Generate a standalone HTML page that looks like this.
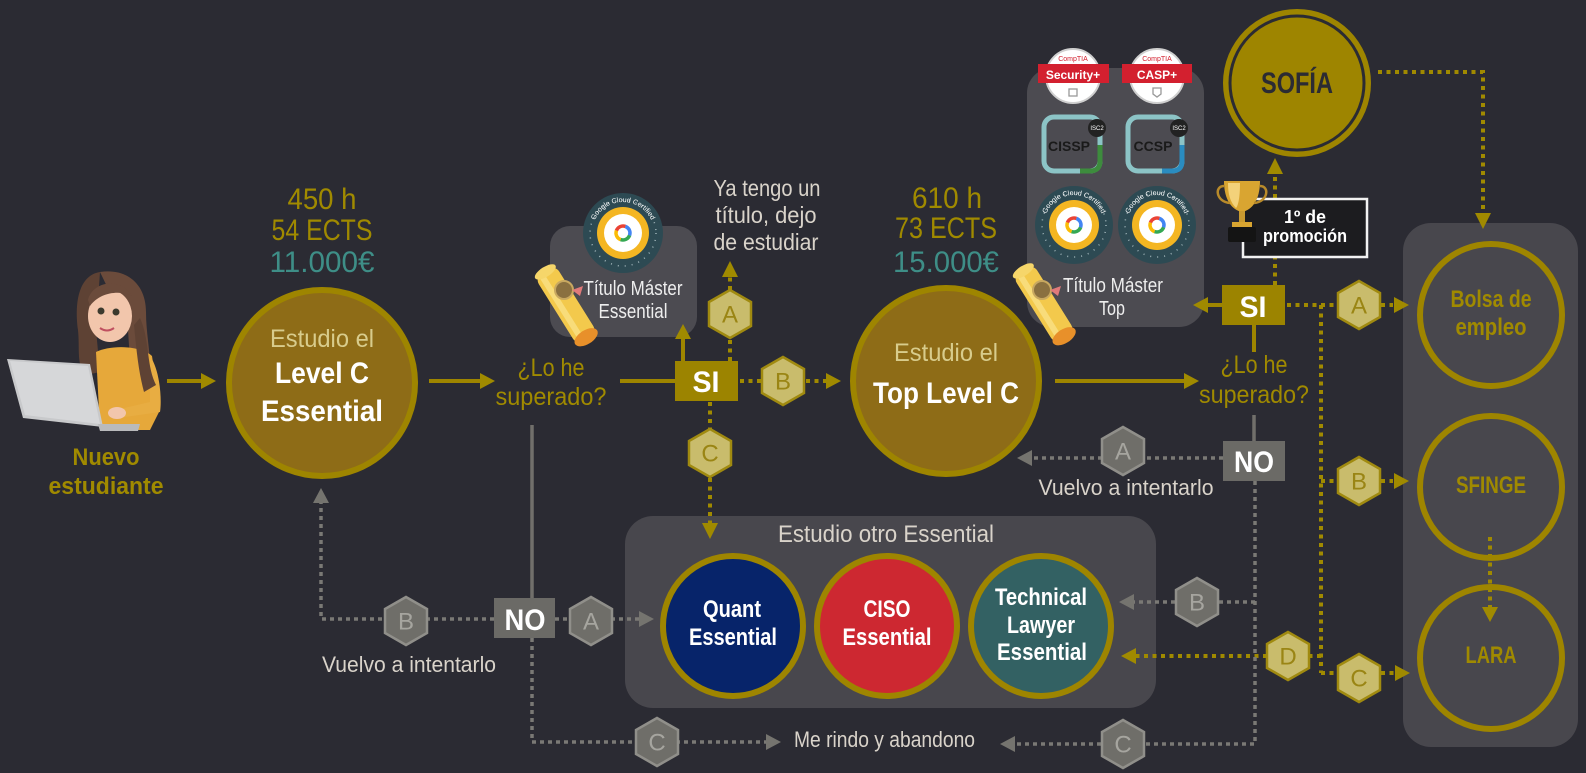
<!DOCTYPE html>
<html><head><meta charset="utf-8">
<style>
html,body{margin:0;padding:0;background:#2b2b33;}
svg{display:block;}
text{font-family:"Liberation Sans Narrow","Liberation Sans",sans-serif;}
.g{fill:#a08a00}
.t{fill:#3e8e87}
.l{fill:#d9d3ca}
.w{fill:#ffffff}
.pale{fill:#d8cc8c}
.ls{stroke:#9e8500;stroke-width:4;fill:none}
.ld{stroke:#a08a00;stroke-width:4;fill:none;stroke-dasharray:4 4.5}
.gs{stroke:#716f6b;stroke-width:3.5;fill:none}
.gd{stroke:#7a7975;stroke-width:3.5;fill:none;stroke-dasharray:4 4}
.ag{fill:#a08a00}
.ax{fill:#75746f}
.hg{fill:#c9bc6c;stroke:#a08a10;stroke-width:2.5}
.hx{fill:#6f6e69;stroke:#908f8a;stroke-width:2.5}
.lg{fill:#9a8514;font-size:24px}
.lx{fill:#a6a59f;font-size:24px}
</style></head>
<body>
<svg width="1586" height="773" viewBox="0 0 1586 773" xmlns="http://www.w3.org/2000/svg">
<rect width="1586" height="773" fill="#2b2b33"/>

<!-- panels -->
<rect x="550" y="226" width="147" height="111" rx="20" fill="#4c4b51"/>
<rect x="1027" y="68" width="177" height="259" rx="25" fill="#4c4b51"/>
<rect x="625" y="516" width="531" height="192" rx="28" fill="#48474d"/>
<rect x="1403" y="223" width="175" height="524" rx="28" fill="#48474d"/>

<!-- ===== girl with laptop ===== -->
<g>
  <path d="M100,272 C80,275 74,300 78,330 C80,350 76,365 86,375 L100,372 L96,330 Z" fill="#5e4234"/>
  <path d="M100,272 C128,268 146,285 146,312 C146,340 154,365 148,392 L132,392 L128,330 Z" fill="#6b4b3b"/>
  <ellipse cx="110" cy="316" rx="22" ry="26" fill="#f2c6ac"/>
  <path d="M88,300 C92,282 120,276 132,296 C120,290 100,292 90,306 Z" fill="#6b4b3b"/>
  <circle cx="101" cy="311" r="3.5" fill="#3c3a2e"/>
  <circle cx="116" cy="312" r="3.5" fill="#3c3a2e"/>
  <path d="M100,328 Q107,333 114,328" stroke="#c05060" stroke-width="2" fill="none"/>
  <path d="M96,352 C110,345 140,345 152,356 L160,410 L150,430 L100,430 Z" fill="#e6a83a"/>
  <path d="M150,356 C160,370 162,400 160,412 L118,418 L116,410 L150,402 Z" fill="#e8ad42"/>
  <ellipse cx="117" cy="413" rx="9" ry="6" fill="#f2c6ac"/>
  <path d="M140,318 C150,340 146,365 156,385 L144,392 C138,370 136,345 134,325 Z" fill="#5e4234"/>
  <polygon points="7,359 90,364 103,427 23,418" fill="#c8c9cb"/>
  <polygon points="10,361 88,366 100,424 25,415" fill="#d6d7d9"/>
  <polygon points="98,424 140,424 138,431 100,431" fill="#b9babc"/>
</g>
<text x="106" y="465" class="g" font-size="24" font-weight="bold" text-anchor="middle" textLength="67" lengthAdjust="spacingAndGlyphs">Nuevo</text>
<text x="106" y="494" class="g" font-size="24" font-weight="bold" text-anchor="middle" textLength="115" lengthAdjust="spacingAndGlyphs">estudiante</text>

<!-- arrows into Level C -->
<line x1="167" y1="381" x2="202" y2="381" class="ls"/>
<polygon points="216,381 201,373 201,389" class="ag"/>

<!-- Level C circle -->
<circle cx="322" cy="383" r="93" fill="#8e6c17" stroke="#9e8500" stroke-width="6"/>
<text x="322" y="347" class="pale" font-size="25" text-anchor="middle" textLength="104" lengthAdjust="spacingAndGlyphs">Estudio el</text>
<text x="322" y="383" class="w" font-size="30" font-weight="bold" text-anchor="middle" textLength="94" lengthAdjust="spacingAndGlyphs">Level C</text>
<text x="322" y="421" class="w" font-size="30" font-weight="bold" text-anchor="middle" textLength="122" lengthAdjust="spacingAndGlyphs">Essential</text>

<text x="322" y="209" class="g" font-size="30" text-anchor="middle" textLength="69" lengthAdjust="spacingAndGlyphs">450 h</text>
<text x="322" y="240" class="g" font-size="30" text-anchor="middle" textLength="101" lengthAdjust="spacingAndGlyphs">54 ECTS</text>
<text x="322" y="272" class="t" font-size="30" text-anchor="middle" textLength="105" lengthAdjust="spacingAndGlyphs">11.000€</text>

<line x1="429" y1="381" x2="481" y2="381" class="ls"/>
<polygon points="495,381 480,373 480,389" class="ag"/>

<text x="551" y="376" class="g" font-size="25" text-anchor="middle" textLength="67" lengthAdjust="spacingAndGlyphs">¿Lo he</text>
<text x="551" y="405" class="g" font-size="25" text-anchor="middle" textLength="111" lengthAdjust="spacingAndGlyphs">superado?</text>

<!-- SI 1 -->
<line x1="620" y1="381" x2="676" y2="381" class="ls"/>
<line x1="683" y1="361" x2="683" y2="338" class="ls"/>
<polygon points="683,324 675,339 691,339" class="ag"/>
<rect x="675" y="361" width="63" height="40" fill="#9c8400"/>
<text x="706" y="392" class="w" font-size="30" font-weight="bold" text-anchor="middle" textLength="27" lengthAdjust="spacingAndGlyphs">SI</text>

<!-- Titulo Master Essential -->
<g transform="translate(623,233)">
  <circle r="40" fill="#2d4a53"/>
  <circle r="33" fill="none" stroke="#9fb3b8" stroke-width="1.5" stroke-dasharray="1 6"/>
  <circle r="26" fill="#f4b622"/>
  <circle r="19" fill="#ffffff"/>
  <circle r="7" fill="none" stroke="#ea4335" stroke-width="3.5" stroke-dasharray="11 33" transform="rotate(200)"/>
  <circle r="7" fill="none" stroke="#4285f4" stroke-width="3.5" stroke-dasharray="11 33" transform="rotate(290)"/>
  <circle r="7" fill="none" stroke="#34a853" stroke-width="3.5" stroke-dasharray="11 33" transform="rotate(20)"/>
  <circle r="7" fill="none" stroke="#fbbc05" stroke-width="3.5" stroke-dasharray="11 33" transform="rotate(110)"/>
  <path id="bp1" d="M-31,0 A31,31 0 0 1 31,0" fill="none"/>
  <text font-size="7" fill="#ffffff"><textPath href="#bp1" startOffset="50%" text-anchor="middle">Google Cloud Certified</textPath></text>
</g>
<text x="633" y="295" fill="#eeeeee" font-size="20" text-anchor="middle" textLength="99" lengthAdjust="spacingAndGlyphs">Título Máster</text>
<text x="633" y="318" fill="#eeeeee" font-size="20" text-anchor="middle" textLength="69" lengthAdjust="spacingAndGlyphs">Essential</text>
<!-- scroll 1 -->
<g transform="translate(566,305) rotate(-32)">
  <rect x="-12" y="-40" width="24" height="80" rx="8" fill="#f3c94c"/>
  <rect x="-8" y="-40" width="6" height="80" fill="#f8dc7a"/>
  <ellipse cx="0" cy="38" rx="13" ry="7" fill="#e8902a"/>
  <ellipse cx="0" cy="-39" rx="12" ry="5" fill="#f6d66a"/>
</g>
<circle cx="564" cy="290" r="9" fill="#8a7040" stroke="#c8a860" stroke-width="2"/>
<polygon points="572,290 583,286 580,296" fill="#e07a7a"/>

<!-- Ya tengo un titulo -->
<line x1="730" y1="361" x2="730" y2="338" class="ld"/>
<line x1="730" y1="290" x2="730" y2="276" class="ld"/>
<polygon points="730,261 722,277 738,277" class="ag"/>
<text x="767" y="196" class="l" font-size="23" text-anchor="middle" textLength="107" lengthAdjust="spacingAndGlyphs">Ya tengo un</text>
<text x="766" y="223" class="l" font-size="23" text-anchor="middle" textLength="101" lengthAdjust="spacingAndGlyphs">título, dejo</text>
<text x="766" y="250" class="l" font-size="23" text-anchor="middle" textLength="105" lengthAdjust="spacingAndGlyphs">de estudiar</text>

<!-- B to Top Level -->
<line x1="740" y1="381" x2="762" y2="381" class="ld"/>
<line x1="806" y1="381" x2="826" y2="381" class="ld"/>
<polygon points="841,381 826,373 826,389" class="ag"/>
<!-- C down -->
<line x1="710" y1="402" x2="710" y2="429" class="ld"/>
<line x1="710" y1="478" x2="710" y2="523" class="ld"/>
<polygon points="710,539 702,523 718,523" class="ag"/>

<!-- Top Level C -->
<circle cx="946" cy="381" r="93" fill="#8e6c17" stroke="#9e8500" stroke-width="6"/>
<text x="946" y="361" class="pale" font-size="25" text-anchor="middle" textLength="104" lengthAdjust="spacingAndGlyphs">Estudio el</text>
<text x="946" y="403" class="w" font-size="30" font-weight="bold" text-anchor="middle" textLength="146" lengthAdjust="spacingAndGlyphs">Top Level C</text>
<text x="947" y="208" class="g" font-size="30" text-anchor="middle" textLength="70" lengthAdjust="spacingAndGlyphs">610 h</text>
<text x="946" y="238" class="g" font-size="30" text-anchor="middle" textLength="102" lengthAdjust="spacingAndGlyphs">73 ECTS</text>
<text x="946" y="272" class="t" font-size="30" text-anchor="middle" textLength="106" lengthAdjust="spacingAndGlyphs">15.000€</text>

<line x1="1055" y1="381" x2="1185" y2="381" class="ls"/>
<polygon points="1199,381 1184,373 1184,389" class="ag"/>

<text x="1254" y="373" class="g" font-size="25" text-anchor="middle" textLength="67" lengthAdjust="spacingAndGlyphs">¿Lo he</text>
<text x="1254" y="403" class="g" font-size="25" text-anchor="middle" textLength="110" lengthAdjust="spacingAndGlyphs">superado?</text>

<!-- Titulo Master Top badges -->
<g transform="translate(1073,76)">
  <circle r="27" fill="#ffffff" stroke="#cfcfcf" stroke-width="2"/>
  <text y="-15" font-size="7" fill="#d3202f" text-anchor="middle">CompTIA</text>
  <rect x="-35" y="-12" width="71" height="19" fill="#d3202f"/>
  <text y="3" font-size="12" font-weight="bold" fill="#ffffff" text-anchor="middle">Security+</text>
  <rect x="-4" y="13" width="8" height="7" fill="none" stroke="#999" stroke-width="1.3"/>
</g>
<g transform="translate(1157,76)">
  <circle r="27" fill="#ffffff" stroke="#cfcfcf" stroke-width="2"/>
  <text y="-15" font-size="7" fill="#d3202f" text-anchor="middle">CompTIA</text>
  <rect x="-35" y="-12" width="70" height="19" fill="#d3202f"/>
  <text y="3" font-size="12" font-weight="bold" fill="#ffffff" text-anchor="middle">CASP+</text>
  <path d="M-4,12 L4,12 L4,18 L0,21 L-4,18 Z" fill="none" stroke="#999" stroke-width="1.3"/>
</g>
<g>
  <rect x="1044" y="117" width="56" height="54" rx="10" fill="none" stroke="#8cc4c6" stroke-width="5"/>
  <path d="M1100,145 L1100,161 Q1100,171 1090,171 L1080,171" fill="none" stroke="#3d8c3d" stroke-width="5"/>
  <text x="1069" y="151" font-size="14" font-weight="bold" fill="#1a1a1a" text-anchor="middle">CISSP</text>
  <circle cx="1097" cy="128" r="9" fill="#222"/>
  <text x="1097" y="130" font-size="6" fill="#fff" text-anchor="middle">ISC2</text>
  <rect x="1128" y="117" width="54" height="54" rx="10" fill="none" stroke="#8cc4c6" stroke-width="5"/>
  <path d="M1182,145 L1182,161 Q1182,171 1172,171 L1162,171" fill="none" stroke="#2a8cc0" stroke-width="5"/>
  <text x="1153" y="151" font-size="14" font-weight="bold" fill="#1a1a1a" text-anchor="middle">CCSP</text>
  <circle cx="1179" cy="128" r="9" fill="#222"/>
  <text x="1179" y="130" font-size="6" fill="#fff" text-anchor="middle">ISC2</text>
</g>
<g transform="translate(1074,225)">
  <circle r="39" fill="#2d4a53"/>
  <circle r="32" fill="none" stroke="#9fb3b8" stroke-width="1.5" stroke-dasharray="1 6"/>
  <circle r="25" fill="#f4b622"/>
  <circle r="18" fill="#ffffff"/>
  <circle r="7" fill="none" stroke="#ea4335" stroke-width="3.5" stroke-dasharray="11 33" transform="rotate(200)"/>
  <circle r="7" fill="none" stroke="#4285f4" stroke-width="3.5" stroke-dasharray="11 33" transform="rotate(290)"/>
  <circle r="7" fill="none" stroke="#34a853" stroke-width="3.5" stroke-dasharray="11 33" transform="rotate(20)"/>
  <circle r="7" fill="none" stroke="#fbbc05" stroke-width="3.5" stroke-dasharray="11 33" transform="rotate(110)"/>
  <path id="bp2" d="M-30,0 A30,30 0 0 1 30,0" fill="none"/>
  <text font-size="7" fill="#ffffff"><textPath href="#bp2" startOffset="50%" text-anchor="middle">Google Cloud Certified</textPath></text>
</g>
<g transform="translate(1157,225)">
  <circle r="39" fill="#2d4a53"/>
  <circle r="32" fill="none" stroke="#9fb3b8" stroke-width="1.5" stroke-dasharray="1 6"/>
  <circle r="25" fill="#f4b622"/>
  <circle r="18" fill="#ffffff"/>
  <circle r="7" fill="none" stroke="#ea4335" stroke-width="3.5" stroke-dasharray="11 33" transform="rotate(200)"/>
  <circle r="7" fill="none" stroke="#4285f4" stroke-width="3.5" stroke-dasharray="11 33" transform="rotate(290)"/>
  <circle r="7" fill="none" stroke="#34a853" stroke-width="3.5" stroke-dasharray="11 33" transform="rotate(20)"/>
  <circle r="7" fill="none" stroke="#fbbc05" stroke-width="3.5" stroke-dasharray="11 33" transform="rotate(110)"/>
  <path id="bp3" d="M-30,0 A30,30 0 0 1 30,0" fill="none"/>
  <text font-size="7" fill="#ffffff"><textPath href="#bp3" startOffset="50%" text-anchor="middle">Google Cloud Certified</textPath></text>
</g>
<text x="1113" y="292" fill="#eeeeee" font-size="20" text-anchor="middle" textLength="100" lengthAdjust="spacingAndGlyphs">Título Máster</text>
<text x="1112" y="315" fill="#eeeeee" font-size="20" text-anchor="middle" textLength="26" lengthAdjust="spacingAndGlyphs">Top</text>
<!-- scroll 2 -->
<g transform="translate(1044,304) rotate(-32)">
  <rect x="-12" y="-40" width="24" height="80" rx="8" fill="#f3c94c"/>
  <rect x="-8" y="-40" width="6" height="80" fill="#f8dc7a"/>
  <ellipse cx="0" cy="38" rx="13" ry="7" fill="#e8902a"/>
  <ellipse cx="0" cy="-39" rx="12" ry="5" fill="#f6d66a"/>
</g>
<circle cx="1042" cy="290" r="9" fill="#8a7040" stroke="#c8a860" stroke-width="2"/>
<polygon points="1050,290 1061,286 1058,296" fill="#e07a7a"/>

<!-- SI 2 -->
<line x1="1222" y1="305" x2="1206" y2="305" class="ls"/>
<polygon points="1193,305 1208,297 1208,313" class="ag"/>
<line x1="1254" y1="325" x2="1254" y2="352" class="ls"/>
<rect x="1222" y="285" width="63" height="40" fill="#9c8400"/>
<text x="1253" y="317" class="w" font-size="30" font-weight="bold" text-anchor="middle" textLength="27" lengthAdjust="spacingAndGlyphs">SI</text>

<!-- trophy + promo -->
<line x1="1275" y1="285" x2="1275" y2="258" class="ld"/>
<line x1="1275" y1="198" x2="1275" y2="174" class="ld"/>
<polygon points="1275,158 1267,174 1283,174" class="ag"/>
<rect x="1243" y="199" width="124" height="58" fill="#1c1c1f" stroke="#f2f2f2" stroke-width="2.5"/>
<text x="1305" y="223" class="w" font-size="18" font-weight="bold" text-anchor="middle" textLength="42" lengthAdjust="spacingAndGlyphs">1º de</text>
<text x="1305" y="242" class="w" font-size="18" font-weight="bold" text-anchor="middle" textLength="84" lengthAdjust="spacingAndGlyphs">promoción</text>
<g>
  <path d="M1224,181 L1260,181 C1260,200 1252,210 1242,212 C1232,210 1224,200 1224,181 Z" fill="#d9a531"/>
  <path d="M1228,183 L1240,183 C1240,198 1238,206 1236,208 C1230,202 1228,194 1228,183 Z" fill="#f3d27a"/>
  <path d="M1224,186 C1214,186 1216,202 1230,203" fill="none" stroke="#b88a2a" stroke-width="2.5"/>
  <path d="M1260,186 C1270,186 1268,202 1254,203" fill="none" stroke="#b88a2a" stroke-width="2.5"/>
  <rect x="1239" y="211" width="6" height="12" fill="#c99a30"/>
  <rect x="1232" y="222" width="20" height="5" fill="#d9a531"/>
  <rect x="1228" y="227" width="28" height="15" rx="2" fill="#141414"/>
</g>

<!-- SOFIA -->
<circle cx="1297" cy="83" r="74" fill="#9e8500"/>
<circle cx="1297" cy="83" r="67" fill="none" stroke="#2b2b33" stroke-width="3"/>
<text x="1297" y="93" fill="#2b2b33" font-size="30" font-weight="bold" text-anchor="middle" textLength="72" lengthAdjust="spacingAndGlyphs">SOFÍA</text>
<polyline points="1378,72 1483,72 1483,213" class="ld"/>
<polygon points="1483,229 1475,213 1491,213" class="ag"/>

<!-- right side dotted -->
<line x1="1287" y1="305" x2="1338" y2="305" class="ld"/>
<line x1="1381" y1="305" x2="1393" y2="305" class="ld"/>
<polygon points="1409,305 1394,297 1394,313" class="ag"/>
<line x1="1321" y1="305" x2="1321" y2="673" class="ld"/>
<line x1="1321" y1="481" x2="1338" y2="481" class="ld"/>
<line x1="1381" y1="481" x2="1393" y2="481" class="ld"/>
<polygon points="1409,481 1394,473 1394,489" class="ag"/>
<line x1="1321" y1="673" x2="1338" y2="673" class="ld"/>
<line x1="1381" y1="673" x2="1394" y2="673" class="ld"/>
<polygon points="1410,673 1395,665 1395,681" class="ag"/>
<line x1="1321" y1="656" x2="1309" y2="656" class="ld"/>
<line x1="1267" y1="656" x2="1136" y2="656" class="ld"/>
<polygon points="1121,656 1136,648 1136,664" class="ag"/>
<line x1="1490" y1="537" x2="1490" y2="607" class="ld"/>
<polygon points="1490,622 1482,607 1498,607" class="ag"/>

<!-- right circles -->
<circle cx="1491" cy="315" r="71" fill="none" stroke="#9e8500" stroke-width="6"/>
<circle cx="1491" cy="487" r="71" fill="none" stroke="#9e8500" stroke-width="6"/>
<circle cx="1491" cy="658" r="71" fill="none" stroke="#9e8500" stroke-width="6"/>
<text x="1491" y="307" class="g" font-size="24" font-weight="bold" text-anchor="middle" textLength="81" lengthAdjust="spacingAndGlyphs">Bolsa de</text>
<text x="1491" y="335" class="g" font-size="24" font-weight="bold" text-anchor="middle" textLength="71" lengthAdjust="spacingAndGlyphs">empleo</text>
<text x="1491" y="493" class="g" font-size="24" font-weight="bold" text-anchor="middle" textLength="70" lengthAdjust="spacingAndGlyphs">SFINGE</text>
<text x="1491" y="663" class="g" font-size="24" font-weight="bold" text-anchor="middle" textLength="51" lengthAdjust="spacingAndGlyphs">LARA</text>

<!-- NO 2 and gray lines -->
<line x1="1254" y1="415" x2="1254" y2="441" class="gs"/>
<line x1="1223" y1="458" x2="1144" y2="458" class="gd"/>
<line x1="1102" y1="458" x2="1032" y2="458" class="gd"/>
<polygon points="1017,458 1032,450 1032,466" class="ax"/>
<text x="1126" y="495" class="l" font-size="22" text-anchor="middle" textLength="175" lengthAdjust="spacingAndGlyphs">Vuelvo a intentarlo</text>
<polyline points="1255,481 1255,744 1145,744" class="gd"/>
<line x1="1101" y1="744" x2="1015" y2="744" class="gd"/>
<polygon points="1000,744 1015,736 1015,752" class="ax"/>
<line x1="1255" y1="602" x2="1219" y2="602" class="gd"/>
<line x1="1175" y1="602" x2="1134" y2="602" class="gd"/>
<polygon points="1119,602 1134,594 1134,610" class="ax"/>
<rect x="1223" y="441" width="62" height="40" fill="#6b6a66"/>
<text x="1254" y="472" class="w" font-size="30" font-weight="bold" text-anchor="middle" textLength="40" lengthAdjust="spacingAndGlyphs">NO</text>

<!-- NO 1 and gray lines -->
<line x1="532" y1="425" x2="532" y2="598" class="gs"/>
<polyline points="494,619 321,619 321,503" class="gd"/>
<polygon points="321,488 313,503 329,503" class="ax"/>
<line x1="555" y1="619" x2="639" y2="619" class="gd"/>
<polygon points="654,619 639,611 639,627" class="ax"/>
<polyline points="532,638 532,742 766,742" class="gd"/>
<polygon points="781,742 766,734 766,750" class="ax"/>
<rect x="494" y="598" width="61" height="40" fill="#6b6a66"/>
<text x="525" y="630" class="w" font-size="30" font-weight="bold" text-anchor="middle" textLength="41" lengthAdjust="spacingAndGlyphs">NO</text>
<text x="409" y="672" class="l" font-size="22" text-anchor="middle" textLength="174" lengthAdjust="spacingAndGlyphs">Vuelvo a intentarlo</text>
<text x="794" y="747" class="l" font-size="22" textLength="181" lengthAdjust="spacingAndGlyphs">Me rindo y abandono</text>

<!-- Estudio otro Essential -->
<text x="778" y="542" class="l" font-size="24" textLength="216" lengthAdjust="spacingAndGlyphs">Estudio otro Essential</text>
<circle cx="733" cy="626" r="70" fill="#07246a" stroke="#9e8500" stroke-width="6"/>
<circle cx="887" cy="626" r="70" fill="#cd2831" stroke="#9e8500" stroke-width="6"/>
<circle cx="1041" cy="626" r="70" fill="#336163" stroke="#9e8500" stroke-width="6"/>
<text x="732" y="617" class="w" font-size="24" font-weight="bold" text-anchor="middle" textLength="58" lengthAdjust="spacingAndGlyphs">Quant</text>
<text x="733" y="645" class="w" font-size="24" font-weight="bold" text-anchor="middle" textLength="88" lengthAdjust="spacingAndGlyphs">Essential</text>
<text x="887" y="617" class="w" font-size="24" font-weight="bold" text-anchor="middle" textLength="47" lengthAdjust="spacingAndGlyphs">CISO</text>
<text x="887" y="645" class="w" font-size="24" font-weight="bold" text-anchor="middle" textLength="89" lengthAdjust="spacingAndGlyphs">Essential</text>
<text x="1041" y="605" class="w" font-size="24" font-weight="bold" text-anchor="middle" textLength="92" lengthAdjust="spacingAndGlyphs">Technical</text>
<text x="1041" y="633" class="w" font-size="24" font-weight="bold" text-anchor="middle" textLength="68" lengthAdjust="spacingAndGlyphs">Lawyer</text>
<text x="1042" y="660" class="w" font-size="24" font-weight="bold" text-anchor="middle" textLength="90" lengthAdjust="spacingAndGlyphs">Essential</text>

<!-- gold hexes -->
<g transform="translate(730,314)"><polygon points="0,-24 21,-12 21,12 0,24 -21,12 -21,-12" class="hg"/><text y="8.5" class="lg" text-anchor="middle">A</text></g>
<g transform="translate(783,381)"><polygon points="0,-24 21,-12 21,12 0,24 -21,12 -21,-12" class="hg"/><text y="8.5" class="lg" text-anchor="middle">B</text></g>
<g transform="translate(710,453)"><polygon points="0,-24 21,-12 21,12 0,24 -21,12 -21,-12" class="hg"/><text y="8.5" class="lg" text-anchor="middle">C</text></g>
<g transform="translate(1359,305)"><polygon points="0,-24 21,-12 21,12 0,24 -21,12 -21,-12" class="hg"/><text y="8.5" class="lg" text-anchor="middle">A</text></g>
<g transform="translate(1359,481)"><polygon points="0,-24 21,-12 21,12 0,24 -21,12 -21,-12" class="hg"/><text y="8.5" class="lg" text-anchor="middle">B</text></g>
<g transform="translate(1359,678)"><polygon points="0,-24 21,-12 21,12 0,24 -21,12 -21,-12" class="hg"/><text y="8.5" class="lg" text-anchor="middle">C</text></g>
<g transform="translate(1288,656)"><polygon points="0,-24 21,-12 21,12 0,24 -21,12 -21,-12" class="hg"/><text y="8.5" class="lg" text-anchor="middle">D</text></g>

<!-- gray hexes -->
<g transform="translate(406,621)"><polygon points="0,-24 21,-12 21,12 0,24 -21,12 -21,-12" class="hx"/><text y="8.5" class="lx" text-anchor="middle">B</text></g>
<g transform="translate(591,621)"><polygon points="0,-24 21,-12 21,12 0,24 -21,12 -21,-12" class="hx"/><text y="8.5" class="lx" text-anchor="middle">A</text></g>
<g transform="translate(657,742)"><polygon points="0,-24 21,-12 21,12 0,24 -21,12 -21,-12" class="hx"/><text y="8.5" class="lx" text-anchor="middle">C</text></g>
<g transform="translate(1123,451)"><polygon points="0,-24 21,-12 21,12 0,24 -21,12 -21,-12" class="hx"/><text y="8.5" class="lx" text-anchor="middle">A</text></g>
<g transform="translate(1197,602)"><polygon points="0,-24 21,-12 21,12 0,24 -21,12 -21,-12" class="hx"/><text y="8.5" class="lx" text-anchor="middle">B</text></g>
<g transform="translate(1123,744)"><polygon points="0,-24 21,-12 21,12 0,24 -21,12 -21,-12" class="hx"/><text y="8.5" class="lx" text-anchor="middle">C</text></g>
</svg>
</body></html>
